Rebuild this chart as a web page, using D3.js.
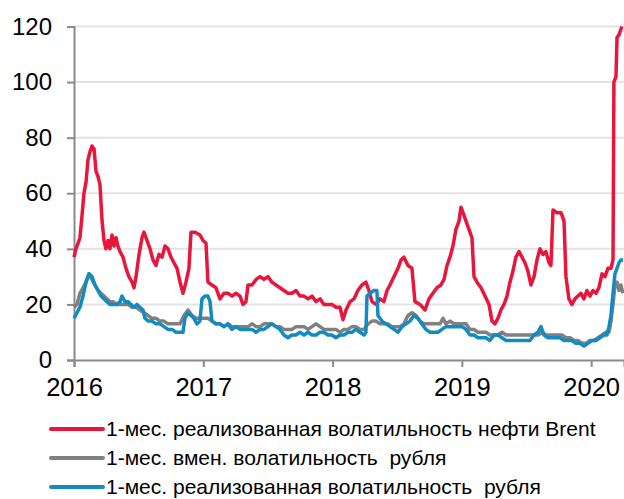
<!DOCTYPE html>
<html>
<head>
<meta charset="utf-8">
<script src="https://cdn.jsdelivr.net/npm/d3@7"></script>
<style>
  body { margin: 0; background: #fff; }
  text { font-family: "Liberation Sans", Arial, sans-serif; fill: #000; }
</style>
</head>
<body>
<div id="vol_dataviz"></div>
<script>
// years on the x axis (decimal year), values in %
const yearTicks = [2016, 2017, 2018, 2019, 2020];
const valueTicks = [0, 20, 40, 60, 80, 100, 120];

const seriesNames = [
  "1-мес. реализованная волатильность нефти Brent",
  "1-мес. вмен. волатильность  рубля",
  "1-мес. реализованная волатильность  рубля"
];

// нефть Brent, реализованная
const brentData = [
  [2016.000, 37], [2016.015, 40], [2016.031, 42], [2016.046, 44], [2016.062, 52], [2016.077, 60],
  [2016.093, 64], [2016.108, 72], [2016.124, 75], [2016.139, 77], [2016.155, 76], [2016.170, 68],
  [2016.186, 66], [2016.201, 63], [2016.217, 50], [2016.232, 43], [2016.247, 40], [2016.263, 43],
  [2016.278, 40], [2016.294, 45], [2016.309, 41], [2016.325, 44], [2016.340, 41], [2016.356, 39],
  [2016.379, 37], [2016.402, 33], [2016.425, 30], [2016.449, 28], [2016.464, 26], [2016.480, 30],
  [2016.503, 38], [2016.526, 44], [2016.541, 46], [2016.565, 43], [2016.588, 40], [2016.611, 36],
  [2016.634, 34], [2016.657, 38], [2016.681, 37], [2016.704, 41], [2016.727, 40], [2016.750, 37],
  [2016.773, 35], [2016.797, 33], [2016.820, 28], [2016.843, 24], [2016.866, 28], [2016.889, 33],
  [2016.905, 46], [2016.936, 46], [2016.974, 45], [2016.998, 43], [2017.021, 42], [2017.036, 28],
  [2017.067, 27], [2017.098, 26], [2017.129, 22], [2017.160, 24], [2017.191, 24], [2017.222, 23],
  [2017.253, 24], [2017.284, 23], [2017.307, 20], [2017.330, 21], [2017.346, 27], [2017.377, 27],
  [2017.408, 29], [2017.439, 30], [2017.469, 29], [2017.500, 30], [2017.531, 28], [2017.562, 27],
  [2017.593, 26], [2017.624, 25], [2017.655, 24], [2017.686, 24], [2017.717, 25], [2017.748, 23],
  [2017.779, 23], [2017.810, 22], [2017.841, 23], [2017.872, 21], [2017.903, 22], [2017.933, 20],
  [2017.964, 20], [2017.995, 20], [2018.026, 19], [2018.057, 19], [2018.080, 14.5], [2018.104, 18],
  [2018.135, 21], [2018.166, 22], [2018.196, 25], [2018.227, 27], [2018.258, 28], [2018.281, 25],
  [2018.305, 21], [2018.336, 20], [2018.367, 22], [2018.397, 21], [2018.421, 25], [2018.444, 27],
  [2018.475, 30], [2018.506, 33], [2018.529, 36], [2018.552, 37], [2018.583, 34], [2018.614, 33],
  [2018.637, 21], [2018.676, 20], [2018.715, 18], [2018.746, 22], [2018.776, 24], [2018.807, 26],
  [2018.838, 27], [2018.862, 29], [2018.885, 34], [2018.908, 37], [2018.931, 41], [2018.954, 47],
  [2018.978, 50], [2018.993, 55], [2019.009, 53], [2019.032, 50], [2019.055, 47], [2019.078, 44],
  [2019.094, 30], [2019.117, 28], [2019.148, 26], [2019.179, 23], [2019.210, 20], [2019.233, 14],
  [2019.256, 13], [2019.279, 15], [2019.302, 18], [2019.326, 20], [2019.349, 23], [2019.372, 28],
  [2019.395, 32], [2019.418, 37], [2019.442, 39], [2019.465, 37], [2019.488, 35], [2019.511, 32],
  [2019.534, 27], [2019.558, 30], [2019.581, 36], [2019.604, 40], [2019.627, 38], [2019.650, 39],
  [2019.674, 35], [2019.689, 34], [2019.705, 54], [2019.735, 53], [2019.767, 53], [2019.790, 50],
  [2019.805, 30], [2019.828, 22], [2019.851, 20], [2019.875, 22], [2019.898, 23], [2019.921, 24],
  [2019.944, 22], [2019.967, 25], [2019.991, 23], [2020.014, 25], [2020.037, 24], [2020.060, 26],
  [2020.084, 31], [2020.107, 30], [2020.130, 33], [2020.153, 33], [2020.169, 36], [2020.176, 100],
  [2020.192, 102], [2020.200, 116], [2020.215, 117], [2020.230, 119], [2020.238, 120]
];

// рубль, вмененная
const rubImpliedData = [
  [2016.000, 19], [2016.023, 20], [2016.046, 24], [2016.070, 26], [2016.093, 28], [2016.116, 31],
  [2016.139, 29], [2016.162, 27], [2016.186, 25], [2016.209, 24], [2016.232, 23], [2016.255, 22],
  [2016.278, 21], [2016.302, 21], [2016.333, 20], [2016.356, 20], [2016.387, 20], [2016.418, 20],
  [2016.449, 19], [2016.480, 19], [2016.510, 18], [2016.541, 17], [2016.572, 16], [2016.603, 15],
  [2016.634, 15], [2016.665, 14], [2016.696, 14], [2016.727, 13], [2016.758, 13], [2016.789, 13],
  [2016.820, 13], [2016.851, 16], [2016.882, 18], [2016.913, 16], [2016.944, 15], [2016.974, 15],
  [2017.005, 15], [2017.036, 15], [2017.067, 14], [2017.098, 13], [2017.129, 13], [2017.160, 12],
  [2017.191, 13], [2017.222, 12], [2017.253, 12], [2017.284, 12], [2017.315, 12], [2017.346, 12],
  [2017.377, 13], [2017.408, 12], [2017.439, 12], [2017.469, 13], [2017.500, 13], [2017.531, 13],
  [2017.562, 12], [2017.593, 12], [2017.624, 11], [2017.655, 11], [2017.686, 11], [2017.717, 12],
  [2017.748, 12], [2017.779, 12], [2017.810, 11], [2017.841, 12], [2017.872, 13], [2017.903, 12],
  [2017.933, 11], [2017.964, 11], [2017.995, 11], [2018.026, 11], [2018.057, 10], [2018.088, 11],
  [2018.119, 11], [2018.150, 12], [2018.181, 12], [2018.212, 11], [2018.243, 11], [2018.274, 13],
  [2018.305, 14], [2018.336, 14], [2018.367, 13], [2018.397, 13], [2018.428, 13], [2018.459, 12],
  [2018.490, 12], [2018.521, 12], [2018.552, 13], [2018.583, 16], [2018.614, 17], [2018.645, 16],
  [2018.676, 14], [2018.707, 13], [2018.738, 13], [2018.769, 13], [2018.800, 13], [2018.831, 13],
  [2018.854, 15], [2018.877, 13], [2018.908, 14], [2018.939, 13], [2018.970, 13], [2019.001, 13],
  [2019.032, 13], [2019.063, 11], [2019.094, 11], [2019.124, 10], [2019.155, 10], [2019.186, 10],
  [2019.217, 9], [2019.248, 9], [2019.279, 9], [2019.310, 10], [2019.341, 9], [2019.372, 9],
  [2019.403, 9], [2019.434, 9], [2019.465, 9], [2019.496, 9], [2019.527, 9], [2019.558, 9],
  [2019.589, 9], [2019.620, 10], [2019.650, 9], [2019.681, 9], [2019.712, 9], [2019.743, 9],
  [2019.774, 9], [2019.805, 8], [2019.836, 8], [2019.867, 7], [2019.898, 7], [2019.929, 6],
  [2019.960, 6], [2019.991, 7], [2020.022, 7], [2020.053, 8], [2020.084, 9], [2020.115, 10],
  [2020.138, 10], [2020.153, 14], [2020.169, 20], [2020.184, 27], [2020.200, 28], [2020.215, 25],
  [2020.230, 27], [2020.246, 24]
];

// рубль, реализованная
const rubRealizedData = [
  [2016.000, 15], [2016.023, 17], [2016.046, 19], [2016.070, 23], [2016.093, 28], [2016.116, 31],
  [2016.139, 30], [2016.162, 27], [2016.186, 25], [2016.209, 23], [2016.232, 22], [2016.255, 21],
  [2016.278, 20], [2016.302, 20], [2016.333, 20], [2016.356, 21], [2016.371, 23], [2016.394, 21],
  [2016.418, 21], [2016.441, 20], [2016.464, 19], [2016.487, 20], [2016.510, 19], [2016.534, 18],
  [2016.549, 15], [2016.572, 14], [2016.603, 14], [2016.634, 13], [2016.665, 13], [2016.696, 12],
  [2016.727, 11], [2016.758, 11], [2016.789, 10], [2016.820, 10], [2016.843, 10], [2016.858, 15],
  [2016.882, 17], [2016.905, 16], [2016.928, 15], [2016.951, 13], [2016.974, 14], [2016.990, 22],
  [2017.013, 23], [2017.036, 23], [2017.052, 21], [2017.067, 14], [2017.098, 13], [2017.129, 13],
  [2017.160, 12], [2017.191, 13], [2017.222, 11], [2017.253, 12], [2017.284, 11], [2017.315, 11],
  [2017.346, 11], [2017.377, 11], [2017.408, 10], [2017.439, 11], [2017.469, 11], [2017.500, 12],
  [2017.531, 13], [2017.562, 12], [2017.593, 11], [2017.624, 9], [2017.655, 8], [2017.686, 9],
  [2017.717, 9], [2017.748, 10], [2017.779, 9], [2017.810, 10], [2017.841, 9], [2017.872, 9],
  [2017.903, 10], [2017.933, 10], [2017.964, 9], [2017.995, 9], [2018.026, 8], [2018.057, 9],
  [2018.088, 9], [2018.119, 10], [2018.150, 10], [2018.181, 11], [2018.212, 10], [2018.243, 9],
  [2018.258, 10], [2018.266, 23], [2018.289, 24], [2018.320, 25], [2018.343, 25], [2018.351, 16],
  [2018.382, 14], [2018.413, 13], [2018.444, 12], [2018.475, 11], [2018.506, 10], [2018.537, 12],
  [2018.568, 13], [2018.599, 14], [2018.630, 16], [2018.660, 15], [2018.691, 13], [2018.722, 11],
  [2018.753, 10], [2018.784, 10], [2018.815, 10], [2018.846, 11], [2018.877, 12], [2018.908, 12],
  [2018.939, 12], [2018.970, 12], [2019.001, 12], [2019.032, 11], [2019.063, 9], [2019.094, 9],
  [2019.124, 8], [2019.155, 8], [2019.186, 8], [2019.217, 7], [2019.248, 9], [2019.279, 9],
  [2019.310, 8], [2019.341, 7], [2019.372, 7], [2019.403, 7], [2019.434, 7], [2019.465, 7],
  [2019.496, 7], [2019.527, 7], [2019.558, 9], [2019.589, 10], [2019.612, 12], [2019.635, 9],
  [2019.666, 8], [2019.697, 8], [2019.728, 8], [2019.759, 8], [2019.790, 7], [2019.821, 7],
  [2019.851, 7], [2019.882, 6], [2019.913, 6], [2019.944, 5], [2019.975, 6], [2020.006, 7],
  [2020.037, 7], [2020.068, 8], [2020.099, 9], [2020.122, 9], [2020.138, 12], [2020.153, 16],
  [2020.169, 24], [2020.184, 31], [2020.200, 33], [2020.215, 35], [2020.230, 36], [2020.246, 36]
];

const seriesColors = ["#e8163c", "#808080", "#128bc0"];

// ========================================================================

var width = 624,
  height = 499;

var svg = d3.select("#vol_dataviz")
  .append("svg")
  .attr("width", width)
  .attr("height", height);

// plot area: left axis at 74, 120 at y=26.5, 0 at y=360
var x = d3.scaleLinear()
  .domain([2016, 2020.254])
  .range([74, 624]);

var y = d3.scaleLinear()
  .domain([0, 120])
  .range([360, 26.5]);

// horizontal gridlines
svg.append("g")
  .selectAll("line")
  .data(valueTicks.filter(function (d) { return d > 0; }))
  .enter()
  .append("line")
  .attr("x1", x(2016))
  .attr("x2", width)
  .attr("y1", function (d) { return y(d); })
  .attr("y2", function (d) { return y(d); })
  .attr("stroke", "#e3e3e3")
  .attr("stroke-width", 2);

// y axis
var yAxis = svg.append("g")
  .attr("transform", "translate(" + x(2016) + ",0)")
  .call(d3.axisLeft(y).tickValues(valueTicks).tickSize(7).tickPadding(15));

// x axis
var xAxis = svg.append("g")
  .attr("transform", "translate(0," + y(0) + ")")
  .call(d3.axisBottom(x).tickValues(yearTicks).tickFormat(d3.format("d")).tickSize(7).tickPadding(11));

[yAxis, xAxis].forEach(function (ax) {
  ax.select(".domain").attr("stroke", "#8a8a8a").attr("stroke-width", 2);
  ax.selectAll(".tick line").attr("stroke", "#8a8a8a").attr("stroke-width", 2);
  ax.selectAll("text").attr("fill", "#000");
});
yAxis.selectAll("text").style("font-size", "24px");
xAxis.selectAll("text").style("font-size", "25.5px");

// lines
var line = d3.line()
  .x(function (d) { return x(d[0]); })
  .y(function (d) { return y(d[1]); });

[brentData, rubImpliedData, rubRealizedData].forEach(function (data, i) {
  svg.append("path")
    .datum(data)
    .attr("d", line)
    .attr("fill", "none")
    .attr("stroke", seriesColors[i])
    .attr("stroke-width", 3.5)
    .attr("stroke-linejoin", "round");
});

// legend
var legend = svg.append("g");
var legendY = [429, 458, 487];

seriesNames.forEach(function (name, i) {
  legend.append("line")
    .attr("x1", 51)
    .attr("x2", 103)
    .attr("y1", legendY[i])
    .attr("y2", legendY[i])
    .attr("stroke", seriesColors[i])
    .attr("stroke-width", 4)
    .attr("stroke-linecap", "round");

  legend.append("text")
    .attr("x", 106)
    .attr("y", legendY[i])
    .attr("dy", "0.35em")
    .style("font-size", "21px")
    .style("white-space", "pre")
    .text(name);
});
</script>
</body>
</html>
